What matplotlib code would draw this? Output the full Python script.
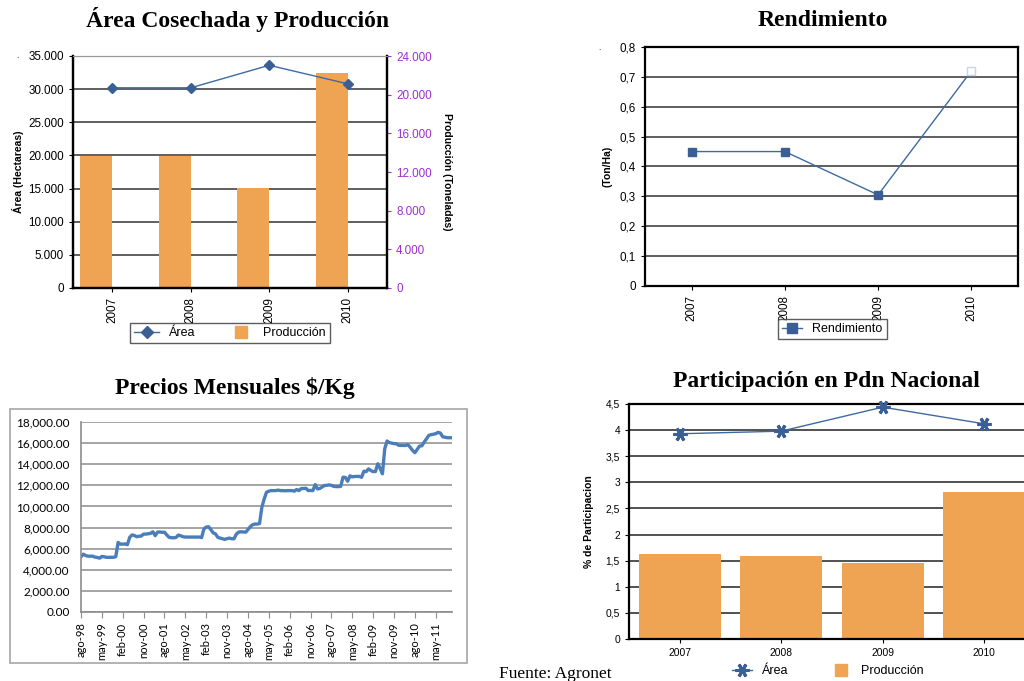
import matplotlib
matplotlib.use("Agg")
import matplotlib.pyplot as plt
from matplotlib.lines import Line2D
from matplotlib.patches import Rectangle
from matplotlib.ticker import FuncFormatter, MultipleLocator

# datos
anios = ["2007", "2008", "2009", "2010"]
area_ha = [30200, 30200, 33600, 30800]
produccion_ton = [13700, 13700, 10300, 22200]
rendimiento = [0.45, 0.45, 0.305, 0.72]
part_area = [3.93, 3.98, 4.44, 4.12]
part_produccion = [1.63, 1.59, 1.45, 2.82]

# precios mensuales $/Kg, ago-98 a dic-11
precios = [
    5230, 5480, 5350, 5290, 5290, 5290, 5200, 5170, 5100, 5260,
    5230, 5180, 5180, 5180, 5180, 5250, 6590, 6430, 6430, 6450,
    6380, 7070, 7300, 7250, 7130, 7180, 7200, 7380, 7380, 7420,
    7450, 7600, 7230, 7570, 7580, 7550, 7560, 7300, 7070, 7040,
    7030, 7060, 7290, 7220, 7130, 7100, 7100, 7100, 7100, 7100,
    7100, 7100, 7050, 7860, 8050, 8080, 7800, 7500, 7400, 7070,
    7000, 6940, 6880, 6950, 7000, 6940, 6940, 7380, 7570, 7600,
    7580, 7560, 7800, 8080, 8270, 8330, 8330, 8380, 9920, 10710,
    11340, 11450, 11500, 11500, 11500, 11550, 11500, 11500, 11480, 11500,
    11500, 11500, 11450, 11600, 11500, 11700, 11700, 11720, 11500, 11520,
    11500, 12070, 11660, 11700, 11850, 11980, 12000, 12040, 12000, 11900,
    11880, 11880, 11900, 12770, 12750, 12390, 12900, 12800, 12840, 12840,
    12850, 12760, 13340, 13300, 13560, 13400, 13300, 13310, 14040, 13600,
    13090, 15470, 16200, 16050, 16000, 15950, 15940, 15800, 15780, 15780,
    15780, 15850, 15600, 15310, 15090, 15400, 15720, 15750, 16100, 16400,
    16730, 16800, 16850, 16890, 17020, 16950, 16600, 16550, 16510, 16510,
    16510,
]
meses_etiquetas = ["ago-98", "may-99", "feb-00", "nov-00", "ago-01", "may-02",
                   "feb-03", "nov-03", "ago-04", "may-05", "feb-06", "nov-06",
                   "ago-07", "may-08", "feb-09", "nov-09", "ago-10", "may-11"]

W, H = 1024, 681
AZUL = "#3d6aa3"
MARCADOR = "#3a5f95"
NARANJA = "#eea453"
MORADO = "#9b30d0"
SANS = "Liberation Sans"
SERIF = "Liberation Serif"

fig = plt.figure(figsize=(W / 100, H / 100), dpi=100)


def caja(l, t, r, b):
    return [l / W, 1 - b / H, (r - l) / W, (b - t) / H]


def titulo(x, y, texto):
    fig.text(x / W, 1 - y / H, texto, ha="center", va="center",
             family=SERIF, fontweight="bold", fontsize=17)


def estilo_excel(ax, rejilla="#333333", tam=8.4):
    ax.set_axisbelow(True)
    ax.grid(axis="y", color=rejilla, linewidth=1.1)
    ax.tick_params(labelsize=tam, length=3, width=0.8)
    for lab in ax.get_xticklabels() + ax.get_yticklabels():
        lab.set_family(SANS)


def cuadro_naranja():
    return Line2D([], [], ls="none", marker="s", ms=8, mfc=NARANJA, mec=NARANJA)


x = list(range(len(anios)))

# ---------- Área Cosechada y Producción ----------
titulo(238, 20, "Área Cosechada y Producción")
ax1 = fig.add_axes(caja(73, 56, 387, 288))
ax1b = ax1.twinx()
ax1b.bar(x, produccion_ton, width=-0.41, align="edge", color=NARANJA, zorder=2)
ax1b.set_ylim(0, 24000)
ax1b.yaxis.set_major_locator(MultipleLocator(4000))
ax1b.yaxis.set_major_formatter(FuncFormatter(lambda v, p: f"{v:,.0f}".replace(",", ".")))
ax1b.tick_params(axis="y", colors=MORADO, labelsize=8.4, length=3)
for lab in ax1b.get_yticklabels():
    lab.set_family(SANS)
ax1b.set_ylabel("Producción (Toneladas)", rotation=270, labelpad=15,
                family=SANS, fontweight="bold", fontsize=7.5)
ax1.set_zorder(ax1b.get_zorder() + 1)
ax1.patch.set_visible(False)
ax1b.set_zorder(0)
ax1.plot(x, area_ha, color=AZUL, lw=1, marker="D", ms=5,
         mfc=MARCADOR, mec=MARCADOR, zorder=3)
ax1.set_ylim(0, 35000)
ax1.set_xlim(-0.5, 3.5)
ax1.yaxis.set_major_locator(MultipleLocator(5000))
ax1.yaxis.set_major_formatter(FuncFormatter(lambda v, p: f"{v:,.0f}".replace(",", ".")))
ax1.set_xticks(x)
ax1.set_xticklabels(anios, rotation=90)
ax1.set_ylabel("Área (Hectareas)", family=SANS, fontweight="bold", fontsize=7.5, labelpad=3)
estilo_excel(ax1)
for ax in (ax1, ax1b):
    for s in ("left", "bottom", "right"):
        ax.spines[s].set_linewidth(1.6)
    ax.spines["top"].set_color("#999999")
# rejilla en el eje de fondo para que las barras la tapen
ax1b.grid(False)
for v in range(5000, 35001, 5000):
    ax1b.axhline(v * 24000 / 35000, color="#333333", lw=1.1, zorder=1)
ax1.grid(False)
l1 = Line2D([], [], color=AZUL, lw=1, marker="D", ms=6, mfc=MARCADOR, mec=MARCADOR)
leg = fig.legend([l1, cuadro_naranja()], ["Área", "Producción"], loc="center",
                 bbox_to_anchor=(230 / W, 1 - 333 / H), ncol=2,
                 frameon=True, fancybox=False, edgecolor="#333333",
                 handlelength=2.0, columnspacing=2.6, borderpad=0.35,
                 prop={"family": SANS, "size": 9})
leg.get_frame().set_linewidth(1.0)
fig.text(16 / W, 1 - 58 / H, ".", fontsize=6, family=SANS)

# ---------- Rendimiento ----------
titulo(823, 20, "Rendimiento")
ax2 = fig.add_axes(caja(645, 47, 1018, 286))
ax2.plot(x, rendimiento, color=AZUL, lw=1, zorder=3)
ax2.plot(x[:3], rendimiento[:3], ls="none", marker="s", ms=6,
         mfc=MARCADOR, mec=MARCADOR, zorder=4)
ax2.plot(x[3:], rendimiento[3:], ls="none", marker="s", ms=6,
         mfc="white", mec="#c8d4e6", zorder=4)
ax2.set_ylim(0, 0.8)
ax2.set_xlim(-0.5, 3.5)
ax2.yaxis.set_major_locator(MultipleLocator(0.1))
ax2.yaxis.set_major_formatter(FuncFormatter(
    lambda v, p: "0" if abs(v) < 1e-9 else f"{v:.1f}".replace(".", ",")))
ax2.set_xticks(x)
ax2.set_xticklabels(anios, rotation=90)
ax2.set_ylabel("(Ton/Ha)", family=SANS, fontweight="bold", fontsize=7.5, labelpad=5)
estilo_excel(ax2)
for s in ax2.spines.values():
    s.set_linewidth(1.6)
l2 = Line2D([], [], color=AZUL, lw=1, marker="s", ms=7, mfc=MARCADOR, mec=MARCADOR)
leg2 = fig.legend([l2], ["Rendimiento"], loc="center",
                  bbox_to_anchor=(832 / W, 1 - 329 / H), fancybox=False,
                  edgecolor="#333333", handlelength=1.6, borderpad=0.35,
                  prop={"family": SANS, "size": 9})
leg2.get_frame().set_linewidth(1.0)
fig.text(598 / W, 1 - 50 / H, ".", fontsize=6, family=SANS)

# ---------- Precios Mensuales ----------
titulo(235, 388, "Precios Mensuales $/Kg")
fig.patches.append(Rectangle((10 / W, 1 - 663 / H), 457 / W, 254 / H,
                             transform=fig.transFigure, fill=False,
                             edgecolor="#a6a6a6", lw=1.2))
ax3 = fig.add_axes(caja(81, 422, 452, 612))
meses = list(range(len(precios)))
ax3.plot(meses, precios, color="#4a7ebb", lw=2.4, solid_joinstyle="round")
ax3.set_ylim(0, 18000)
ax3.set_xlim(0, len(precios) - 1)
ax3.yaxis.set_major_locator(MultipleLocator(2000))
ax3.yaxis.set_major_formatter(FuncFormatter(lambda v, p: f"{v:,.2f}"))
ax3.set_xticks(list(range(0, len(precios), 9)))
ax3.set_xticklabels(meses_etiquetas, rotation=90)
ax3.grid(axis="y", color="#8c8c8c", lw=1.1)
ax3.set_axisbelow(True)
ax3.tick_params(axis="y", length=0, labelsize=8.5, pad=8)
ax3.tick_params(axis="x", length=4, color="#8c8c8c", labelsize=8)
for lab in ax3.get_xticklabels() + ax3.get_yticklabels():
    lab.set_family("Lato")
for s in ("top", "right"):
    ax3.spines[s].set_visible(False)
for s in ("left", "bottom"):
    ax3.spines[s].set_color("#8c8c8c")
    ax3.spines[s].set_linewidth(1.2)

# ---------- Participación en Pdn Nacional ----------
titulo(826, 381, "Participación en Pdn Nacional")
ax4 = fig.add_axes(caja(629, 404, 1035, 639))
ax4.bar(x, part_produccion, width=0.81, color=NARANJA, zorder=2)
ax4.plot(x, part_area, color=AZUL, lw=1, marker=(6, 2, 90), ms=10,
         mec=MARCADOR, mew=2.2, zorder=3, clip_on=False)
ax4.set_ylim(0, 4.5)
ax4.set_xlim(-0.5, 3.5)
ax4.yaxis.set_major_locator(MultipleLocator(0.5))
ax4.yaxis.set_major_formatter(FuncFormatter(
    lambda v, p: f"{v:g}".replace(".", ",")))
ax4.set_xticks(x)
ax4.set_xticklabels(anios)
ax4.set_ylabel("% de Participacion", family=SANS, fontweight="bold", fontsize=7.5, labelpad=8)
estilo_excel(ax4, rejilla="#222222", tam=7.4)
for s in ax4.spines.values():
    s.set_linewidth(1.6)
l4 = Line2D([], [], color=AZUL, lw=1, marker=(6, 2, 90), ms=10, mec=MARCADOR, mew=2.2)
fig.legend([l4, cuadro_naranja()], ["Área", "Producción"], loc="center",
           bbox_to_anchor=(828 / W, 1 - 671 / H), ncol=2, frameon=False,
           handlelength=1.6, columnspacing=3.4, prop={"family": SANS, "size": 9})

fig.text(555 / W, 1 - 674 / H, "Fuente: Agronet", ha="center", va="center",
         family=SERIF, fontsize=12.5)

fig.savefig("out.png", dpi=100)
